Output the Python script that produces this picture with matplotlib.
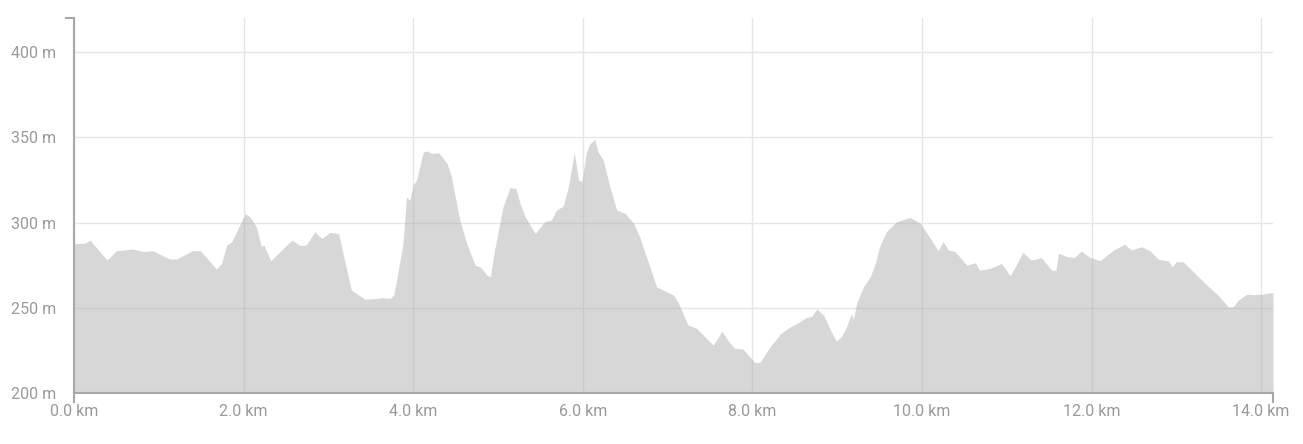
import numpy as np
import matplotlib.pyplot as plt

# elevation profile
dist_km = [0.00, 0.13, 0.19, 0.39, 0.50, 0.70, 0.81, 0.93, 1.13, 1.21, 1.40, 1.49, 1.68, 1.74, 1.80,
           1.86, 2.02, 2.08, 2.15, 2.21, 2.24, 2.32, 2.43, 2.57, 2.67, 2.74, 2.84, 2.92, 3.02, 3.12,
           3.27, 3.33, 3.43, 3.57, 3.63, 3.73, 3.77, 3.81, 3.88, 3.92, 3.96, 4.00, 4.04, 4.12, 4.16,
           4.22, 4.30, 4.40, 4.45, 4.55, 4.63, 4.73, 4.79, 4.87, 4.91, 4.96, 5.06, 5.14, 5.21, 5.26,
           5.32, 5.44, 5.55, 5.63, 5.69, 5.77, 5.83, 5.90, 5.95, 5.99, 6.04, 6.08, 6.14, 6.18, 6.24,
           6.32, 6.40, 6.50, 6.60, 6.67, 6.75, 6.87, 6.95, 7.07, 7.13, 7.24, 7.34, 7.44, 7.54, 7.64,
           7.71, 7.79, 7.89, 7.95, 8.03, 8.09, 8.21, 8.33, 8.42, 8.56, 8.64, 8.70, 8.76, 8.84, 8.92,
           8.99, 9.05, 9.11, 9.17, 9.19, 9.23, 9.31, 9.39, 9.45, 9.50, 9.58, 9.70, 9.86, 9.98, 10.10,
           10.19, 10.25, 10.31, 10.39, 10.53, 10.63, 10.68, 10.80, 10.94, 11.04, 11.10, 11.19, 11.29,
           11.41, 11.53, 11.58, 11.61, 11.71, 11.80, 11.88, 11.98, 12.10, 12.26, 12.39, 12.47, 12.59,
           12.69, 12.79, 12.91, 12.95, 13.00, 13.08, 13.20, 13.36, 13.49, 13.57, 13.61, 13.67, 13.73,
           13.83, 13.91, 14.02, 14.14]
elev_m = [287.5, 288, 289.7, 278, 283.5, 284.5, 283, 283.5, 278.6, 278.6, 283.5, 283.5, 272.7, 276, 286.8,
          288.7, 305.4, 303, 297.5, 285.8, 286.8, 277.6, 283, 289.7, 286.4, 286.8, 294.6, 290.7, 294.2, 293.6,
          260.4, 258.5, 255, 255.5, 256, 255.5, 257.5, 268, 287.8, 315, 313, 322, 325, 341.5, 342,
          340.5, 341, 334.7, 327, 301.5, 287.8, 275, 274, 269.2, 268.2, 283.9, 309.3, 320.4, 320, 311.3,
          303.4, 293.6, 300.5, 301.5, 307.3, 309.7, 321, 341, 325, 324, 340.5, 346, 348.8, 341.5, 336.7,
          321, 307.3, 305.4, 299.5, 291.7, 280, 262.3, 260.4, 257.5, 252.6, 239.9, 238, 233, 228, 236.2,
          231, 226.2, 225.8, 222.3, 217.8, 218, 227.2, 234.6, 238, 241.8, 244.4, 244.8, 249.3, 245.7, 237,
          230.5, 233, 238.9, 246.7, 242.8, 252.6, 262.3, 268.2, 276, 285.8, 294.6, 300.5, 303, 299.5, 290.7,
          283.5, 288.8, 283.9, 283, 275, 276.4, 272, 273.1, 276, 268.8, 274, 282.5, 278,
          279.4, 272, 272, 282, 280, 279.6, 283.3, 279.6, 277.6, 283.9, 287.2, 283.9, 285.8,
          283.3, 278.4, 277.4, 274, 277, 277, 271.1, 263.3, 257.5, 253, 250.6, 250.6, 254.5,
          257.9, 257.7, 258, 259]

x_ticks = [0, 2, 4, 6, 8, 10, 12, 14]
x_labels = ['%.1f km' % v for v in x_ticks]
y_ticks = [200, 250, 300, 350, 400]
y_labels = ['%d m' % v for v in y_ticks]

plt.rcParams['font.family'] = ['Roboto', 'DejaVu Sans']

fig = plt.figure(figsize=(13.03, 4.44), dpi=100)
ax = fig.add_axes([74/1303, 51/444, 1199/1303, 375/444])

ax.fill_between(dist_km, elev_m, 200, color='#b0b0b0', alpha=0.5, linewidth=0, zorder=2)

ax.set_xlim(0, dist_km[-1])
ax.set_ylim(200, 420)
ax.set_xticks(x_ticks)
ax.set_xticklabels(x_labels)
ax.set_yticks(y_ticks)
ax.set_yticklabels(y_labels)
ax.grid(True, color='#e6e6e6', linewidth=1, zorder=0)
ax.set_axisbelow(True)

for s in ['top', 'right']:
    ax.spines[s].set_visible(False)
for s in ['left', 'bottom']:
    ax.spines[s].set_color('#a8a8a8')
    ax.spines[s].set_linewidth(1.5)

ax.tick_params(length=0, labelsize=11.5, colors='#999999')
ax.tick_params(axis='y', pad=13)
ax.tick_params(axis='x', pad=8)

# small end marks on the axes
ax.plot([-0.1, 0], [420, 420], color='#a8a8a8', lw=1.5, clip_on=False)
ax.plot([0, 0], [200, 195], color='#a8a8a8', lw=1.5, clip_on=False)
ax.plot([dist_km[-1], dist_km[-1]], [200, 195], color='#a8a8a8', lw=1.5, clip_on=False)

plt.savefig('out.png', dpi=100)
